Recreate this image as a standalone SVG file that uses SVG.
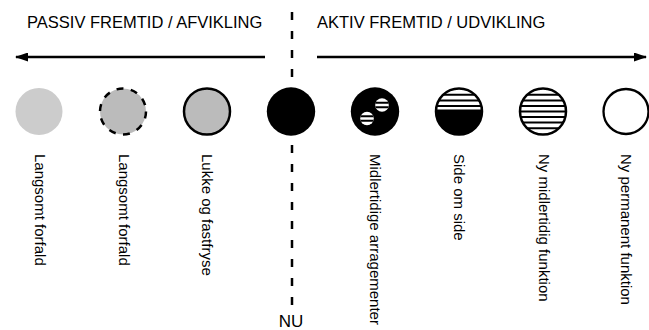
<svg xmlns="http://www.w3.org/2000/svg" width="649" height="330" viewBox="0 0 649 330">
<style>
text{font-family:"Liberation Sans",Arial,sans-serif;fill:#000}
.hdr{font-size:16.5px}
.lbl{font-size:15px}
.axis{stroke:#000;stroke-width:2.5;fill:none}
.stripe{stroke:#000;stroke-width:2}
</style>
<defs>
<marker id="ah" markerWidth="13" markerHeight="9" refX="12" refY="4.5" orient="auto" markerUnits="userSpaceOnUse">
<path d="M0,0 L13,4.5 L0,9 Z" fill="#000"/>
</marker>
<clipPath id="cc"><circle cx="0" cy="0" r="23"/></clipPath>
<clipPath id="cs"><circle cx="0" cy="0" r="6.8"/></clipPath>
</defs>
<rect width="649" height="330" fill="#fff"/>

<g id="connectors">
<line class="axis" x1="265" y1="57" x2="16" y2="57" marker-end="url(#ah)"/>
<line class="axis" x1="317" y1="57" x2="646" y2="57" marker-end="url(#ah)"/>
<line class="axis" x1="292" y1="12" x2="292" y2="307" stroke-dasharray="8,11"/>
</g>

<text class="hdr" x="27" y="28">PASSIV FREMTID / AFVIKLING</text>
<text class="hdr" x="317" y="28">AKTIV FREMTID / UDVIKLING</text>
<text x="291" y="327" font-size="17" text-anchor="middle">NU</text>

<g id="n1">
<circle cx="39" cy="111.5" r="23.5" fill="#cccccc"/>
<text class="lbl" transform="translate(39,154) rotate(90)" y="4">Langsomt forfald</text>
</g>
<g id="n2">
<circle cx="123" cy="111.5" r="23" fill="#bbbbbb" stroke="#000" stroke-width="2.5" stroke-dasharray="7,7.45"/>
<text class="lbl" transform="translate(123,154) rotate(90)" y="4">Langsomt forfald</text>
</g>
<g id="n3">
<circle cx="207" cy="111.5" r="23" fill="#bbbbbb" stroke="#000" stroke-width="2.5"/>
<text class="lbl" transform="translate(207,154) rotate(90)" y="5">Lukke og fastfryse</text>
</g>
<g id="n4">
<circle cx="291" cy="111.5" r="24.2" fill="#000"/>
</g>
<g id="n5">
<circle cx="375" cy="111.5" r="24.2" fill="#000"/>
<g transform="translate(382,105)">
<circle r="6.8" fill="#fff"/>
<g clip-path="url(#cs)"><line class="stripe" x1="-8" y1="-2.3" x2="8" y2="-2.3" stroke-width="1.6"/><line class="stripe" x1="-8" y1="2.3" x2="8" y2="2.3" stroke-width="1.6"/></g>
</g>
<g transform="translate(367,118.5)">
<circle r="6.8" fill="#fff"/>
<g clip-path="url(#cs)"><line class="stripe" x1="-8" y1="-2.3" x2="8" y2="-2.3" stroke-width="1.6"/><line class="stripe" x1="-8" y1="2.3" x2="8" y2="2.3" stroke-width="1.6"/></g>
</g>
<text class="lbl" transform="translate(375,154) rotate(90)" y="5">Midlertidige arragementer</text>
</g>
<g id="n6">
<g transform="translate(459,111.5)">
<circle r="23" fill="#fff"/>
<g clip-path="url(#cc)">
<line class="stripe" x1="-25" y1="-16.7" x2="25" y2="-16.7"/>
<line class="stripe" x1="-25" y1="-11.1" x2="25" y2="-11.1"/>
<line class="stripe" x1="-25" y1="-5.6" x2="25" y2="-5.6"/>
<rect x="-25" y="-2" width="50" height="30" fill="#000"/>
</g>
<circle r="23" fill="none" stroke="#000" stroke-width="2.5"/>
</g>
<text class="lbl" transform="translate(459,154) rotate(90)" y="5.5">Side om side</text>
</g>
<g id="n7">
<g transform="translate(543,111.5)">
<circle r="23" fill="#fff"/>
<g clip-path="url(#cc)">
<line class="stripe" x1="-25" y1="-16.7" x2="25" y2="-16.7"/>
<line class="stripe" x1="-25" y1="-11.1" x2="25" y2="-11.1"/>
<line class="stripe" x1="-25" y1="-5.6" x2="25" y2="-5.6"/>
<line class="stripe" x1="-25" y1="0" x2="25" y2="0"/>
<line class="stripe" x1="-25" y1="5.6" x2="25" y2="5.6"/>
<line class="stripe" x1="-25" y1="11.1" x2="25" y2="11.1"/>
<line class="stripe" x1="-25" y1="16.7" x2="25" y2="16.7"/>
</g>
<circle r="23" fill="none" stroke="#000" stroke-width="2.5"/>
</g>
<text class="lbl" transform="translate(543,154) rotate(90)" y="4">Ny midlertidig funktion</text>
</g>
<g id="n8">
<circle cx="626" cy="111.5" r="22.5" fill="#fff" stroke="#000" stroke-width="2.3"/>
<text class="lbl" transform="translate(626,154) rotate(90)" y="5">Ny permanent funktion</text>
</g>
</svg>
